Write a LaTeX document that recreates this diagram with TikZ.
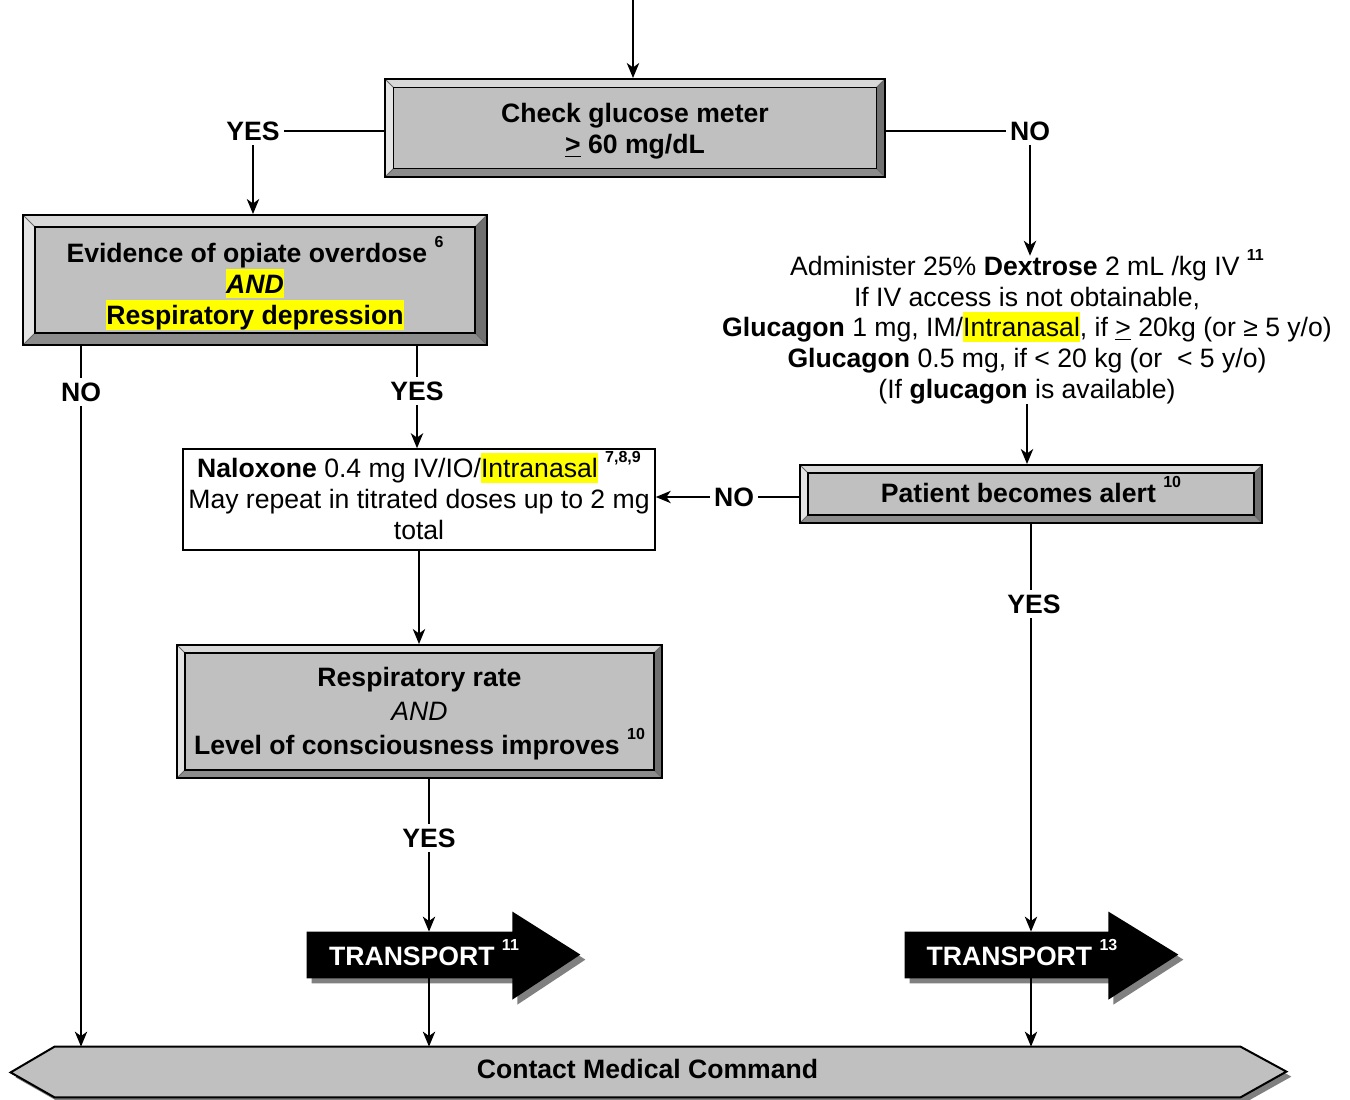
\documentclass[tikz,border=0pt]{standalone}
\usepackage{fontspec}
\setmainfont{Liberation Sans}
\usetikzlibrary{arrows.meta,calc,shadows,backgrounds}
\definecolor{face}{HTML}{C0C0C0}
\definecolor{bvtop}{HTML}{D8D8D8}
\definecolor{bvleft}{HTML}{E4E4E4}
\definecolor{bvright}{HTML}{707070}
\definecolor{bvbot}{HTML}{8C8C8C}
\definecolor{shade}{HTML}{808080}
\definecolor{hly}{HTML}{FFFF00}
\newcommand{\hlt}[1]{{\setlength{\fboxsep}{0pt}\colorbox{hly}{\rule[-2.5pt]{0pt}{14.8pt}#1}}}
\newcommand{\supr}[1]{\raisebox{7.5pt}[0pt][0pt]{\fontsize{8}{8}\selectfont\bfseries #1}}
\tikzset{
  bevelw/.initial=4pt,
  basefont/.style={font=\fontsize{13.3}{15.35}\selectfont},
  boldfont/.style={font=\fontsize{13.3}{15.35}\selectfont\bfseries},
  btxt/.style={boldfont, align=center, inner sep=0pt},
  ptxt/.style={basefont, align=center, inner sep=0pt},
  bevel/.style={draw=black, line width=1pt, fill=face, inner sep=0pt,
    path picture={
      \pgfmathsetlengthmacro\bw{\pgfkeysvalueof{/tikz/bevelw}}
      \coordinate (@sw) at (path picture bounding box.south west);
      \coordinate (@ne) at (path picture bounding box.north east);
      \coordinate (@nw) at (@sw |- @ne);
      \coordinate (@se) at (@ne |- @sw);
      \coordinate (@inw) at ($(@nw)+(\bw,-\bw)$);
      \coordinate (@ine) at ($(@ne)+(-\bw,-\bw)$);
      \coordinate (@ise) at ($(@se)+(-\bw,\bw)$);
      \coordinate (@isw) at ($(@sw)+(\bw,\bw)$);
      \fill[bvtop] (@nw) -- (@ne) -- (@ine) -- (@inw) -- cycle;
      \fill[bvright] (@ne) -- (@se) -- (@ise) -- (@ine) -- cycle;
      \fill[bvbot] (@se) -- (@sw) -- (@isw) -- (@ise) -- cycle;
      \fill[bvleft] (@sw) -- (@nw) -- (@inw) -- (@isw) -- cycle;
      \draw[line width=0.4pt, black!60] (@nw) -- (@inw) (@ne) -- (@ine) (@se) -- (@ise) (@sw) -- (@isw);
      \draw[line width=0.8pt, black] (@isw) rectangle (@ine);
    }},
  plainbox/.style={draw=black, line width=0.8pt, fill=white, inner sep=0pt},
  lbl/.style={boldfont, inner sep=2pt},
  tbody/.style={inner sep=0pt, minimum height=23pt},
  lblw/.style={boldfont, text=white, inner sep=0pt},
  conn/.style={line width=0.75pt},
  arr/.style={line width=0.75pt, -{Stealth[length=7.5pt,width=6.2pt,inset=2.2pt]}},
  shad/.style={drop shadow={shadow xshift=2.5pt, shadow yshift=-2.5pt, fill=shade, opacity=1}}
}
\begin{document}
\begin{tikzpicture}[x=0.5pt, y=-0.5pt]
\useasboundingbox (0,0) rectangle (1350,1099);

% boxes
\node[bevel, bevelw=4.25pt, minimum width=250pt, minimum height=49pt,
  label={[btxt, yshift=-1.5pt]center:{Check glucose meter\\\underline{>} 60 mg/dL}}] (glu) at (635,128) {};
\node[bevel, bevelw=6pt, minimum width=232pt, minimum height=65pt,
  label={[btxt, yshift=-3.3pt]center:{Evidence of opiate overdose \supr{6}\\\hlt{\itshape AND}\\\hlt{Respiratory depression}}}] (ev) at (255,280) {};
\node[basefont, align=center, inner sep=0pt] (dex) at (1027,330)
  {Administer 25\% \textbf{Dextrose} 2 mL /kg IV \supr{11}\\
   If IV access is not obtainable,\\
   \textbf{Glucagon} 1 mg, IM/\hlt{Intranasal}, if \underline{>} 20kg (or ≥ 5 y/o)\\
   \textbf{Glucagon} 0.5 mg, if < 20 kg (or\ \ < 5 y/o)\\
   (If \textbf{glucagon} is available)};
\node[plainbox, minimum width=236pt, minimum height=50.5pt,
  label={[ptxt, yshift=1.5pt]center:{\textbf{Naloxone} 0.4 mg IV/IO/\hlt{Intranasal} \supr{7,8,9}\\May repeat in titrated doses up to 2 mg\\total}}] (nal) at (419,499.5) {};
\node[bevel, minimum width=231pt, minimum height=29pt,
  label={[btxt, yshift=0.5pt]center:{Patient becomes alert \supr{10}}}] (pat) at (1031,494) {};
\node[bevel, minimum width=242.5pt, minimum height=66.5pt,
  label={[btxt, yshift=-1pt]center:{Respiratory rate\\[1.7pt]{\mdseries\itshape AND}\\[1.7pt]Level of consciousness improves \supr{10}}}] (resp) at (419.5,711.5) {};

% transport arrows
\node[tbody, minimum width=102.5pt, label={[lblw, xshift=7.25pt, yshift=-0.5pt]center:TRANSPORT \supr{11}}] (tr1) at (409.5,955) {};
\node[tbody, minimum width=101.5pt, label={[lblw, xshift=7.75pt, yshift=-0.5pt]center:TRANSPORT \supr{13}}] (tr2) at (1006.5,955) {};
\node[boldfont, inner sep=0pt, minimum width=592.5pt, minimum height=25pt] (cmc) at (647.5,1072) {\raisebox{3pt}{Contact Medical Command}};

\begin{scope}[on background layer]
  \path[fill=black, shad] (tr1.north west) -- (tr1.north east) -- ++(0,-20) -- ++(68,43) -- ++(-68,45) -- (tr1.south east) -- (tr1.south west) -- cycle;
  \path[fill=black, shad] (tr2.north west) -- (tr2.north east) -- ++(0,-20) -- ++(70,43) -- ++(-70,45) -- (tr2.south east) -- (tr2.south west) -- cycle;
  \path[fill=face, draw=black, line width=1pt, shad] (cmc.north west) -- (cmc.north east) -- ++(46,25) -- (cmc.south east) -- (cmc.south west) -- ++(-44,-25) -- cycle;
\end{scope}

% labels
\node[lbl] (yes1) at (253,131) {YES};
\node[lbl] (no1) at (1030,131) {NO};
\node[lbl] (nolbl) at (81,392) {NO};
\node[lbl] (yes2) at (417,391) {YES};
\node[lbl] (nopat) at (734,497) {NO};
\node[lbl] (yespat) at (1034,604) {YES};
\node[lbl] (yes3) at (429,838) {YES};

% connectors
\coordinate (top) at (633,0);
\draw[arr] (top) -- (top |- glu.north);
\draw[conn] (yes1.east) -- (yes1.east -| glu.west);
\draw[arr] (yes1.south) -- (yes1.south |- ev.north);
\draw[conn] (no1.west) -- (no1.west -| glu.east);
\draw[arr] (no1.south) -- (no1.south |- dex.north);
\draw[arr] (dex.south) -- (dex.south |- pat.north);
\draw[conn] (nopat.east) -- (nopat.east -| pat.west);
\draw[arr] (nopat.west) -- (nopat.west -| nal.east);
\draw[conn] (pat.south) -- (pat.south |- yespat.north);
\draw[arr] (pat.south |- yespat.south) -- (pat.south |- tr2.north);
\draw[arr] (pat.south |- tr2.south) -- (pat.south |- cmc.north);
\draw[conn] (nolbl.north |- ev.south) -- (nolbl.north);
\draw[arr] (nolbl.south) -- (nolbl.south |- cmc.north);
\draw[conn] (yes2.north |- ev.south) -- (yes2.north);
\draw[arr] (yes2.south) -- (yes2.south |- nal.north);
\draw[arr] (nal.south) -- (nal.south |- resp.north);
\draw[conn] (yes3.north |- resp.south) -- (yes3.north);
\draw[arr] (yes3.south) -- (yes3.south |- tr1.north);
\draw[arr] (yes3.south |- tr1.south) -- (yes3.south |- cmc.north);
\end{tikzpicture}
\end{document}
